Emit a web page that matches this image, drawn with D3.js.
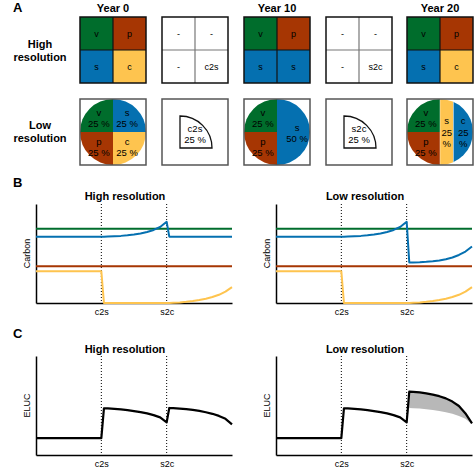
<!DOCTYPE html>
<html>
<head>
<meta charset="utf-8">
<script src="https://cdn.jsdelivr.net/npm/d3@7"></script>
<style>
  body { margin: 0; background: #fff; }
  text { font-family: "Liberation Sans", Arial, sans-serif; }
</style>
</head>
<body>
<script>
// land-use types and their colours
var landTypes = ["v", "p", "s", "c"];
var landColors = ["#006d2c", "#a63603", "#0570b0", "#fec44f"];

// panel A, high resolution grids (top-left, top-right, bottom-left, bottom-right)
var yearLabels = ["Year 0", "Year 10", "Year 20"];
var gridYear0 = ["v", "p", "s", "c"];
var gridChange1 = ["-", "-", "-", "c2s"];
var gridYear10 = ["v", "p", "s", "s"];
var gridChange2 = ["-", "-", "-", "s2c"];
var gridYear20 = ["v", "p", "s", "c"];

// panel A, low resolution shares (pie order clockwise from 12 o'clock)
var pieYear0Types = ["s", "c", "p", "v"];
var pieYear0Shares = [25, 25, 25, 25];
var pieYear10Types = ["s", "p", "v"];
var pieYear10Shares = [50, 25, 25];
var pieYear20Types = ["s", "c", "p", "v"];
var pieYear20Shares = [25, 25, 25, 25];
var stripFillTypes = ["c", "s"];   // right half of the year 20 circle, as drawn
var stripLabels = ["s", "c"];
var changeLabels = ["c2s", "s2c"];
var changeShares = [25, 25];

// panels B and C, time axis (years), events at 10 and 20
var eventYears = [10, 20];
var eventLabels = ["c2s", "s2c"];
var years = [0, 1, 2, 3, 4, 5, 6, 7, 8, 9, 10, 10.4, 11, 12, 13, 14, 15, 16, 17, 18, 19, 20, 20.4,
             21, 22, 23, 24, 25, 26, 27, 28, 29, 30];

// carbon per land type (arbitrary units)
var carbonV = [75, 75, 75, 75, 75, 75, 75, 75, 75, 75, 75, 75, 75, 75, 75, 75, 75, 75, 75, 75, 75, 75, 75,
               75, 75, 75, 75, 75, 75, 75, 75, 75, 75];
var carbonP = [37, 37, 37, 37, 37, 37, 37, 37, 37, 37, 37, 37, 37, 37, 37, 37, 37, 37, 37, 37, 37, 37, 37,
               37, 37, 37, 37, 37, 37, 37, 37, 37, 37];
var carbonSHigh = [67, 67, 67, 67, 67, 67, 67, 67, 67, 67, 67, 67, 67.1, 67.4, 67.8, 68.4, 69.2, 70.3, 71.8, 73.8, 76.8, 82, 67,
                   67, 67, 67, 67, 67, 67, 67, 67, 67, 67];
var carbonSLow = [67, 67, 67, 67, 67, 67, 67, 67, 67, 67, 67, 67, 67.1, 67.4, 67.8, 68.4, 69.2, 70.3, 71.8, 73.8, 76.8, 82, 41,
                  41, 41.2, 41.6, 42.2, 43, 44.2, 46, 48.5, 52, 57];
var carbonC = [32, 32, 32, 32, 32, 32, 32, 32, 32, 32, 32, 0, 0, 0, 0, 0, 0, 0, 0, 0, 0, 0, 0,
               0.2, 0.6, 1.2, 2, 3, 4.3, 6, 8.3, 11.5, 16];

// emissions from land-use change
var elucHigh = [17, 17, 17, 17, 17, 17, 17, 17, 17, 17, 17, 47, 47, 46.6, 46, 45.3, 44.4, 43.3, 42, 40.3, 38, 33, 47.5,
                47.3, 46.9, 46.3, 45.5, 44.5, 43.2, 41.6, 39.5, 36.5, 31];
var elucLow = [17, 17, 17, 17, 17, 17, 17, 17, 17, 17, 17, 47, 47, 46.6, 46, 45.3, 44.4, 43.3, 42, 40.3, 38, 33, 64,
               63.8, 63.2, 62.3, 61, 59.4, 57.2, 54, 49.5, 42, 32];

function colorOf(t) { return landColors[landTypes.indexOf(t)]; }

var svg = d3.select("body").append("svg")
  .attr("width", 475)
  .attr("height", 472);

// panel letters
[["A", 12], ["B", 187], ["C", 338]].forEach(function(p) {
  svg.append("text").attr("x", 13).attr("y", p[1])
    .attr("font-size", 13).attr("font-weight", "bold").text(p[0]);
});

// ---------- panel A ----------
var boxX = [80, 162, 244, 326, 407];
var boxSize = 66;
var highY = 17, lowY = 99;

yearLabels.forEach(function(lab, i) {
  svg.append("text").attr("x", boxX[i * 2] + boxSize / 2).attr("y", 12)
    .attr("text-anchor", "middle").attr("font-size", 11).attr("font-weight", "bold").text(lab);
});

function rowLabel(lines, y) {
  lines.forEach(function(l, i) {
    svg.append("text").attr("x", 40).attr("y", y + i * 12.5)
      .attr("text-anchor", "middle").attr("font-size", 11).attr("font-weight", "bold").text(l);
  });
}
rowLabel(["High", "resolution"], 48);
rowLabel(["Low", "resolution"], 129);

function drawGrid(x0, cells, filled) {
  var g = svg.append("g").attr("transform", "translate(" + x0 + "," + highY + ")");
  var half = boxSize / 2;
  g.selectAll("rect.cell").data(cells).enter().append("rect")
    .attr("x", function(d, i) { return (i % 2) * half; })
    .attr("y", function(d, i) { return Math.floor(i / 2) * half; })
    .attr("width", half).attr("height", half)
    .attr("fill", function(d) { return filled ? colorOf(d) : "#fff"; });
  g.selectAll("text").data(cells).enter().append("text")
    .attr("x", function(d, i) { return (i % 2) * half + half / 2; })
    .attr("y", function(d, i) { return Math.floor(i / 2) * half + half / 2 + 3; })
    .attr("text-anchor", "middle").attr("font-size", 9).text(function(d) { return d; });
  var inner = filled ? "#111" : "#777";
  g.append("line").attr("x1", half).attr("x2", half).attr("y1", 0).attr("y2", boxSize)
    .attr("stroke", inner).attr("stroke-width", 1.2);
  g.append("line").attr("x1", 0).attr("x2", boxSize).attr("y1", half).attr("y2", half)
    .attr("stroke", inner).attr("stroke-width", 1.2);
  g.append("rect").attr("width", boxSize).attr("height", boxSize)
    .attr("fill", "none").attr("stroke", "#111").attr("stroke-width", 1.5);
}
drawGrid(boxX[0], gridYear0, true);
drawGrid(boxX[1], gridChange1, false);
drawGrid(boxX[2], gridYear10, true);
drawGrid(boxX[3], gridChange2, false);
drawGrid(boxX[4], gridYear20, true);

var radius = boxSize / 2;
var pie = d3.pie().sort(null).value(function(d) { return d.share; });
var arc = d3.arc().innerRadius(0).outerRadius(radius);
var labelArc = d3.arc().innerRadius(20).outerRadius(20);

function twoLines(g, x, y, a, b) {
  var t = g.append("text").attr("text-anchor", "middle").attr("font-size", 9.5);
  t.append("tspan").attr("x", x).attr("y", y - 1.5).text(a);
  t.append("tspan").attr("x", x).attr("y", y + 9.5).text(b);
}

function drawPie(x0, types, shares, skip) {
  var g = svg.append("g").attr("transform", "translate(" + (x0 + radius) + "," + (lowY + radius) + ")");
  var data = pie(types.map(function(t, i) { return { type: t, share: shares[i] }; }));
  data.forEach(function(d) {
    if (skip && skip.indexOf(d.data.type) >= 0) return;
    g.append("path").attr("d", arc(d)).attr("fill", colorOf(d.data.type));
    var c = labelArc.centroid(d);
    twoLines(g, c[0], c[1], d.data.type, d.data.share + " %");
  });
  return g;
}

function boxFrame(x0) {
  svg.append("rect").attr("x", x0).attr("y", lowY).attr("width", boxSize).attr("height", boxSize)
    .attr("fill", "none").attr("stroke", "#555").attr("stroke-width", 1.5);
}

drawPie(boxX[0], pieYear0Types, pieYear0Shares);
boxFrame(boxX[0]);
drawPie(boxX[2], pieYear10Types, pieYear10Shares);
boxFrame(boxX[2]);

// year 20: left half as quarters, right half split in two vertical strips
var g20 = drawPie(boxX[4], pieYear20Types, pieYear20Shares, ["s", "c"]);
svg.append("clipPath").attr("id", "circ20")
  .append("circle").attr("r", radius);
var split = radius * 0.404;
var stripEdges = [[0, split], [split, radius]];
stripFillTypes.forEach(function(t, i) {
  g20.append("rect").attr("clip-path", "url(#circ20)")
    .attr("x", stripEdges[i][0]).attr("y", -radius)
    .attr("width", stripEdges[i][1] - stripEdges[i][0]).attr("height", 2 * radius)
    .attr("fill", colorOf(t)).attr("stroke", "#fff").attr("stroke-width", 0.4);
  var cx = (stripEdges[i][0] + stripEdges[i][1]) / 2;
  var t3 = g20.append("text").attr("text-anchor", "middle").attr("font-size", 9.5);
  [stripLabels[i], pieYear20Shares[i], "%"].forEach(function(s, k) {
    t3.append("tspan").attr("x", cx).attr("y", -8 + k * 11.5).text(s);
  });
});
boxFrame(boxX[4]);

// change wedges
var wedge = d3.arc().innerRadius(0).outerRadius(32).startAngle(0);
changeLabels.forEach(function(lab, i) {
  var x0 = boxX[1 + i * 2];
  var g = svg.append("g").attr("transform", "translate(" + (x0 + 18) + "," + (lowY + 49) + ")");
  g.append("path").attr("d", wedge.endAngle(Math.PI * 2 * changeShares[i] / 100)())
    .attr("fill", "#fff").attr("stroke", "#111").attr("stroke-width", 1.3);
  twoLines(g, 15, -15, lab, changeShares[i] + " %");
  boxFrame(x0);
});

// ---------- panels B and C ----------
var plotLeft = [36, 276];
var plotWidth = 196;
var titles = ["High resolution", "Low resolution"];

function drawPlot(ox, top, bottom, title, titleY, ylab, series, area) {
  var x = d3.scaleLinear().domain([0, 30]).range([ox, ox + plotWidth]);
  var y = d3.scaleLinear().domain([0, 100]).range([bottom, top]);

  svg.append("text").attr("x", ox + plotWidth / 2 - 9).attr("y", titleY)
    .attr("text-anchor", "middle").attr("font-size", 11).attr("font-weight", "bold").text(title);

  svg.append("text")
    .attr("transform", "translate(" + (ox - 6) + "," + ((top + bottom) / 2) + ") rotate(-90)")
    .attr("text-anchor", "middle").attr("font-size", 9).text(ylab);

  // event markers
  svg.selectAll(null).data(eventYears).enter().append("line")
    .attr("x1", function(d) { return x(d); }).attr("x2", function(d) { return x(d); })
    .attr("y1", top).attr("y2", bottom)
    .attr("stroke", "#000").attr("stroke-width", 1).attr("stroke-dasharray", "1,2");

  if (area) {
    var band = d3.area()
      .defined(function(d, i) { return years[i] >= 20; })
      .x(function(d, i) { return x(years[i]); })
      .y0(function(d, i) { return y(area.lower[i]); })
      .y1(function(d, i) { return y(area.upper[i]); });
    svg.append("path").datum(years).attr("d", band).attr("fill", "#b8b8b8");
  }

  var xAxis = d3.axisBottom(x).tickValues(eventYears)
    .tickFormat(function(d, i) { return eventLabels[i]; })
    .tickSize(0).tickPadding(6).tickSizeOuter(0);
  var gx = svg.append("g").attr("transform", "translate(0," + bottom + ")").call(xAxis);
  gx.select(".domain").attr("stroke-width", 1.5);
  gx.selectAll("text").attr("font-size", 9).attr("font-family", "Liberation Sans, Arial, sans-serif");

  var yAxis = d3.axisLeft(y).tickValues([]).tickSizeOuter(0);
  var gy = svg.append("g").attr("transform", "translate(" + ox + ",0)").call(yAxis);
  gy.select(".domain").attr("stroke-width", 1.5);

  var line = d3.line()
    .x(function(d, i) { return x(years[i]); })
    .y(function(d) { return y(d); });
  series.forEach(function(s) {
    svg.append("path").datum(s.values).attr("d", line)
      .attr("fill", "none").attr("stroke", s.color).attr("stroke-width", s.width)
      .attr("stroke-linejoin", "round");
  });
}

var carbonHigh = [
  { values: carbonV, color: colorOf("v"), width: 2 },
  { values: carbonP, color: colorOf("p"), width: 2 },
  { values: carbonSHigh, color: colorOf("s"), width: 2 },
  { values: carbonC, color: colorOf("c"), width: 2 }
];
var carbonLow = [
  { values: carbonV, color: colorOf("v"), width: 2 },
  { values: carbonP, color: colorOf("p"), width: 2 },
  { values: carbonSLow, color: colorOf("s"), width: 2 },
  { values: carbonC, color: colorOf("c"), width: 2 }
];

drawPlot(plotLeft[0], 204, 303, titles[0], 200, "Carbon", carbonHigh);
drawPlot(plotLeft[1], 204, 303, titles[1], 200, "Carbon", carbonLow);
drawPlot(plotLeft[0], 356, 455, titles[0], 353, "ELUC",
  [{ values: elucHigh, color: "#000", width: 2.2 }]);
drawPlot(plotLeft[1], 356, 455, titles[1], 353, "ELUC",
  [{ values: elucLow, color: "#000", width: 2.2 }],
  { lower: elucHigh, upper: elucLow });
</script>
</body>
</html>
